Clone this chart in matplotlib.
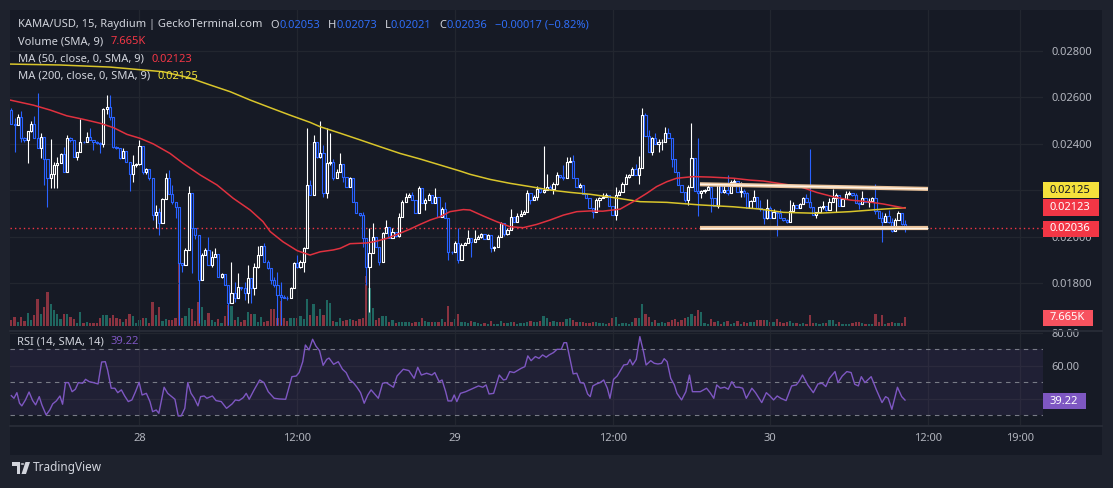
import numpy as np
import matplotlib
matplotlib.use("Agg")
import matplotlib.pyplot as plt
from matplotlib.patches import Rectangle, Circle, Polygon
from matplotlib.collections import PatchCollection
from matplotlib.lines import Line2D

plt.rcParams["font.family"] = ["Noto Sans", "DejaVu Sans"]

# ---------------- data (prices in 1e-5 units, volume in K) ----------------
first_open = 2546
closes = [
    2484, 2482, 2515, 2424, 2417, 2456, 2484, 2424, 2381, 2428, 2335, 2252, 2269, 2309, 2316, 2355,
    2280, 2424, 2417, 2345, 2367, 2410, 2407, 2431, 2417, 2410, 2403, 2400, 2550, 2561, 2515, 2388,
    2384, 2338, 2369, 2321, 2269, 2309, 2312, 2391, 2278, 2290, 2252, 2094, 2108, 2058,
    2161, 2252, 2183, 2148, 2127, 1885, 1878, 1943, 2187, 2036, 2007, 1813, 1921, 1943, 1878, 1914,
    1924, 1828, 1839, 1792, 1713, 1756, 1734, 1785, 1777, 1756, 1821, 1777, 1871, 1921, 1960, 1892,
    1864, 1813, 1792, 1749, 1742, 1738, 1734, 1777, 1885, 1871, 1892, 1950, 2223,
    2180, 2410, 2345, 2359, 2187, 2316, 2323, 2252, 2278, 2312, 2259, 2216, 2252, 2148, 2101, 2094,
    1993, 1871, 1928, 2000, 1957, 1892, 2014, 2043, 1996, 2022, 2003, 2086, 2151, 2173, 2180, 2158,
    2101, 2209, 2144, 2158, 2180, 2144, 2173, 2086, 2119, 2079, 1936, 1935, 1971,
    1900, 1964, 1971, 1993, 1978, 1990, 2000, 2010, 1990, 2007, 1950, 1957, 2000, 2057, 2010, 2029,
    2083, 2065, 2090, 2098, 2108, 2187, 2158, 2173, 2205, 2194, 2201, 2216, 2205, 2226, 2266, 2259,
    2255, 2321, 2326, 2255, 2216, 2223, 2183, 2165, 2122, 2108, 2158, 2165, 2173, 2180, 2134,
    2094, 2180, 2194, 2226, 2257, 2266, 2292, 2266, 2295, 2525, 2436, 2367, 2424, 2398, 2407, 2410,
    2446, 2427, 2335, 2278, 2223, 2194, 2158, 2216, 2338, 2197, 2187, 2197, 2201, 2216, 2165, 2134,
    2223, 2194, 2201, 2187, 2237, 2240, 2194, 2197, 2190, 2125, 2154, 2173, 2122,
    2118, 2082, 2122, 2079, 2108, 2101, 2082, 2072, 2065, 2111, 2137, 2125, 2140, 2168, 2148, 2130,
    2094, 2105, 2130, 2134, 2115, 2151, 2165, 2180, 2134, 2162, 2183, 2187, 2180, 2144, 2140, 2168,
    2151, 2154, 2168, 2111, 2082, 2065, 2090, 2065, 2025, 2072, 2101, 2053, 2036,
]
highs = [
    2555, 2510, 2528, 2542, 2431, 2456, 2499, 2520, 2618, 2449, 2428, 2335, 2421, 2320, 2345, 2360,
    2388, 2438, 2431, 2417, 2367, 2508, 2413, 2453, 2470, 2417, 2413, 2407, 2556, 2611, 2611, 2515,
    2392, 2384, 2381, 2369, 2321, 2352, 2316, 2417, 2391, 2295, 2290, 2252, 2137, 2125,
    2165, 2273, 2288, 2223, 2148, 2127, 1885, 1950, 2219, 2187, 2036, 2007, 1928, 1950, 2000, 1940,
    1950, 1924, 1845, 1839, 1792, 1892, 1806, 1842, 1785, 1806, 1878, 1821, 1885, 1960, 1960, 1971,
    1900, 1864, 1827, 1849, 1806, 1749, 1745, 1785, 1892, 1921, 1900, 1957, 2467,
    2244, 2438, 2410, 2499, 2395, 2467, 2446, 2335, 2290, 2359, 2312, 2259, 2259, 2252, 2148, 2101,
    2108, 1993, 2036, 2058, 2000, 1957, 2022, 2072, 2043, 2036, 2022, 2101, 2158, 2187, 2187, 2194,
    2158, 2220, 2209, 2165, 2187, 2180, 2209, 2173, 2130, 2148, 2079, 1940, 1981,
    2036, 1971, 1978, 2029, 1993, 2029, 2007, 2014, 2010, 2010, 2007, 1960, 2007, 2065, 2057, 2036,
    2120, 2083, 2104, 2115, 2115, 2201, 2187, 2180, 2220, 2205, 2391, 2269, 2223, 2234, 2277, 2266,
    2309, 2345, 2345, 2352, 2255, 2230, 2223, 2183, 2165, 2122, 2165, 2170, 2187, 2187, 2180,
    2134, 2216, 2201, 2234, 2269, 2270, 2302, 2312, 2348, 2553, 2532, 2460, 2431, 2446, 2421, 2421,
    2474, 2467, 2427, 2335, 2278, 2223, 2194, 2223, 2489, 2338, 2424, 2200, 2205, 2226, 2216, 2165,
    2230, 2223, 2223, 2266, 2245, 2248, 2240, 2237, 2205, 2194, 2160, 2201, 2173,
    2158, 2118, 2162, 2134, 2120, 2108, 2120, 2082, 2075, 2158, 2148, 2137, 2144, 2172, 2183, 2378,
    2130, 2108, 2134, 2154, 2134, 2168, 2205, 2187, 2180, 2165, 2197, 2197, 2190, 2187, 2148, 2197,
    2168, 2165, 2172, 2229, 2111, 2108, 2101, 2115, 2080, 2080, 2111, 2101, 2073,
]
lows = [
    2484, 2367, 2482, 2410, 2410, 2316, 2453, 2424, 2381, 2338, 2223, 2129, 2209, 2209, 2209, 2316,
    2280, 2280, 2410, 2345, 2331, 2367, 2405, 2407, 2417, 2374, 2400, 2359, 2388, 2528, 2503, 2384,
    2380, 2335, 2338, 2320, 2197, 2234, 2300, 2309, 2270, 2270, 2245, 2072, 2036, 2007,
    2058, 2161, 2183, 2140, 2079, 1619, 1849, 1878, 1943, 1842, 1990, 1627, 1813, 1921, 1878, 1870,
    1914, 1828, 1820, 1792, 1619, 1713, 1720, 1734, 1770, 1727, 1713, 1713, 1749, 1864, 1921, 1892,
    1860, 1796, 1785, 1619, 1619, 1734, 1727, 1734, 1777, 1864, 1864, 1849, 1950,
    2180, 2180, 2340, 2338, 2170, 2165, 2309, 2245, 2252, 2278, 2237, 2216, 2216, 2148, 2101, 2090,
    1957, 1792, 1677, 1928, 1957, 1878, 1892, 2014, 1996, 1996, 2000, 2000, 2086, 2151, 2170, 2158,
    2101, 2101, 2144, 2115, 2158, 2144, 2144, 2086, 2086, 2079, 1900, 1925, 1935,
    1885, 1900, 1964, 1971, 1914, 1978, 1990, 1995, 1990, 1990, 1936, 1940, 1957, 2000, 2003, 2007,
    2029, 2065, 2065, 2090, 2098, 2108, 2140, 2158, 2158, 2190, 2190, 2201, 2200, 2183, 2223, 2255,
    2245, 2255, 2320, 2255, 2216, 2210, 2183, 2165, 2122, 2082, 2108, 2130, 2165, 2173, 2134,
    2094, 2072, 2180, 2194, 2226, 2255, 2266, 2266, 2226, 2295, 2436, 2367, 2352, 2398, 2367, 2374,
    2410, 2427, 2302, 2278, 2223, 2194, 2150, 2137, 2216, 2197, 2091, 2165, 2187, 2200, 2105, 2134,
    2125, 2190, 2190, 2180, 2187, 2230, 2194, 2172, 2172, 2125, 2125, 2154, 2122,
    2110, 2053, 2075, 2079, 2079, 2004, 2082, 2068, 2060, 2065, 2111, 2125, 2125, 2140, 2148, 2125,
    2094, 2082, 2105, 2120, 2110, 2115, 2151, 2108, 2134, 2134, 2162, 2180, 2175, 2144, 2120, 2140,
    2151, 2130, 2151, 2097, 2082, 1976, 2065, 2060, 2022, 2025, 2072, 2050, 2021,
]
volumes = [
    4.9, 7.8, 2.9, 7.8, 4.1, 11.3, 4.9, 9.3, 23.2, 10.1, 16.5, 29.6, 18.8, 13.6, 10.1, 5.8,
    10.1, 10.1, 7.2, 5.8, 2.6, 11.6, 2.6, 3.5, 2.6, 2.6, 2.6, 7.0, 9.3, 9.3, 6.4, 9.3,
    7.0, 5.5, 3.5, 5.5, 10.1, 8.4, 2.6, 4.9, 7.0, 7.0, 2.6, 20.3, 9.3, 16.2,
    4.1, 5.5, 4.9, 4.9, 7.0, 68.0, 7.0, 8.4, 15.7, 14.5, 4.1, 20.9, 16.5, 4.9, 10.7, 4.9,
    3.5, 5.8, 2.6, 8.7, 18.0, 17.4, 4.9, 7.8, 2.9, 4.9, 11.6, 9.9, 9.9, 2.9, 7.2, 2.9,
    4.1, 14.5, 14.5, 6.4, 21.4, 6.4, 4.1, 6.4, 6.4, 6.4, 8.7, 5.8, 23.2,
    9.3, 18.8, 8.7, 14.5, 9.3, 22.3, 19.4, 4.1, 2.9, 6.4, 4.3, 4.9, 5.8, 4.9, 4.1, 5.8,
    7.0, 43.5, 33.0, 15.1, 4.9, 6.4, 8.7, 8.7, 2.9, 4.9, 2.0, 2.9, 2.9, 2.9, 2.9, 2.0,
    2.9, 3.5, 7.0, 4.1, 2.9, 2.9, 2.9, 2.9, 5.8, 2.9, 17.4, 2.9, 5.8,
    10.1, 2.9, 2.9, 2.3, 4.3, 2.9, 2.3, 1.7, 2.3, 1.7, 4.1, 1.7, 1.7, 4.1, 2.3, 2.3,
    3.5, 2.9, 1.7, 2.3, 2.3, 2.9, 4.1, 2.9, 2.9, 4.1, 8.4, 7.0, 2.9, 4.1, 2.9, 2.9,
    2.9, 5.5, 7.0, 4.9, 2.9, 2.9, 2.9, 2.3, 2.3, 2.9, 2.9, 2.3, 2.3, 1.7, 2.3,
    7.0, 7.8, 1.7, 2.3, 2.3, 1.2, 2.9, 6.4, 7.0, 18.8, 10.1, 7.8, 2.9, 4.9, 2.3, 2.9,
    2.3, 2.9, 4.9, 5.8, 2.9, 4.9, 7.0, 7.8, 10.1, 8.4, 13.6, 11.6, 2.3, 1.7, 5.8, 2.9,
    4.1, 1.7, 2.9, 4.1, 1.7, 2.3, 4.1, 1.7, 2.9, 2.3, 2.9, 3.5, 4.9,
    4.9, 4.9, 4.9, 2.9, 2.9, 5.8, 2.9, 2.0, 2.9, 4.1, 2.3, 2.3, 1.7, 2.3, 1.7, 9.3,
    2.3, 2.3, 1.7, 2.3, 2.3, 4.9, 4.9, 1.7, 2.9, 1.7, 1.7, 1.7, 2.3, 2.9, 2.9, 2.3,
    1.7, 1.7, 1.7, 10.1, 2.9, 9.3, 1.7, 2.3, 2.9, 2.3, 2.3, 2.3, 7.665,
]

# moving averages (x = candle number)
ma50_x = [-0.4, 6.7, 11.8, 16.9, 21.9, 27.0, 31.1, 35.2, 39.2, 43.2, 48.3, 52.3, 57.5, 62.6, 67.5,
          72.7, 76.6, 78.8, 82.7, 87.0, 90.9, 94.0, 98.0, 100.1, 103.1, 108.2, 111.2, 114.3, 118.3,
          121.4, 124.4, 127.5, 130.5, 133.5, 137.6, 139.6, 143.7, 147.7, 151.8, 155.8, 159.9, 164.0,
          168.0, 172.1, 176.1, 180.0, 185.3, 189.3, 193.4, 196.4, 199.5, 202.5, 207.6, 212.7, 219.8,
          224.8, 228.9, 235.0, 240.0, 245.1, 250.2, 255.3, 260.4, 265.4, 272.0]
ma50_y = [2589, 2567, 2546, 2521, 2506, 2489, 2470, 2441, 2424, 2400, 2359, 2316, 2266, 2223, 2166,
          2115, 2065, 2022, 1978, 1940, 1921, 1935, 1943, 1950, 1970, 1973, 1981, 1993, 2015,
          2033, 2053, 2072, 2086, 2108, 2117, 2115, 2089, 2065, 2043, 2039, 2053, 2072,
          2093, 2108, 2111, 2110, 2119, 2151, 2187, 2216, 2237, 2252, 2259, 2257, 2252,
          2244, 2240, 2227, 2216, 2191, 2172, 2158, 2151, 2141, 2123]
ma200_x = [-0.4, 14.9, 30.1, 46.2, 54.4, 60.5, 66.6, 72.7, 78.8, 84.8, 90.9, 94.0, 100.1, 106.2,
           112.2, 118.3, 124.4, 130.5, 136.6, 139.6, 145.7, 151.8, 157.9, 164.0, 170.1, 176.1,
           182.2, 191.4, 199.5, 209.6, 219.7, 227.9, 235.0, 245.1, 255.3, 265.4, 272.0]
ma200_y = [2744, 2740, 2731, 2711, 2684, 2654, 2625, 2589, 2556, 2524, 2493, 2474, 2446, 2417,
           2388, 2359, 2335, 2309, 2283, 2269, 2247, 2230, 2216, 2201, 2191, 2183,
           2171, 2151, 2148, 2137, 2129, 2119, 2105, 2101, 2108, 2119, 2125]

rsi_x = [0, 0.8, 1.7, 2.5, 3.2, 4.3, 5.4, 6.5, 7.4, 8.5, 9.3, 10.6, 11.7, 12.6, 13.7, 14.8, 15.6,
         16.5, 17.4, 18.5, 19.5, 20.4, 21.7, 22.6, 23.7, 25.0, 26.4, 27.5, 28.6, 29.3, 30.4, 31.5,
         32.4, 33.5, 34.5, 35.6, 36.7, 37.8, 38.9, 39.8, 41.1, 42.2, 43.0, 44.1, 44.9, 46.5, 47.6,
         49.8, 50.8, 51.7, 52.8, 53.7, 54.7, 55.7, 56.8, 57.6, 58.7, 59.5, 61.2, 62.3, 63.9, 65.5,
         67.2, 68.2, 69.3, 70.6, 71.5, 72.4, 73.9, 75.6, 76.9, 78.2, 80.0, 81.5, 83.5, 84.3, 85.4,
         86.7, 87.6, 88.7, 89.5, 90.6, 91.7, 92.7, 93.8, 94.9, 96.0, 96.7, 98.1, 99.5, 100.8, 101.9,
         103.0, 104.1, 105.2, 106.3, 107.4, 108.5, 109.5, 110.4, 111.7, 113.0, 114.1, 115.2, 116.3,
         117.4, 119.3, 121.0, 122.6, 123.7, 124.8, 126.4, 128.0, 128.9, 130.2, 131.1, 132.2, 132.9,
         134.0, 134.8, 135.6, 136.7, 138.3, 140.0, 142.2, 143.5, 144.5, 145.4, 146.8, 148.5, 149.8,
         150.6, 151.7, 153.0, 155.2, 156.3, 157.2, 158.2, 159.5, 160.6, 161.7, 162.8, 163.7, 165.0,
         166.1, 167.4, 168.2, 169.0, 169.9, 171.0, 172.1, 173.2, 174.3, 175.4, 176.2, 177.0, 178.1,
         179.2, 180.3, 181.4, 182.2, 183.3, 184.4, 185.5, 186.4, 187.5, 188.3, 189.1, 190.2, 191.3,
         192.4, 193.2, 194.6, 195.7, 196.8, 197.9, 198.7, 199.6, 200.7, 201.8, 202.6, 204.0, 205.3,
         206.4, 207.3, 208.4, 209.7, 211.6, 212.7, 213.8, 214.7, 215.8, 217.1, 218.2, 219.3, 220.4,
         221.5, 222.6, 223.7, 225.4, 226.5, 228.4, 229.8, 230.9, 232.0, 233.1, 234.2, 235.8, 237.5,
         238.9, 239.7, 240.8, 242.4, 244.1, 245.5, 246.8, 247.9, 249.0, 250.7, 251.6, 252.9, 254.3,
         255.6, 256.7, 257.8, 258.7, 259.8, 261.7, 263.3, 265.0, 266.1, 266.9, 268.0, 269.7, 271.0,
         272.0]
rsi_v = [41.9, 40.3, 43.7, 37.3, 35.7, 39.3, 44.1, 38.9, 36.3, 41.3, 36.3, 30.2, 33.2, 36.9, 38.7,
         41.7, 36.7, 49.8, 49.8, 44.3, 45.8, 49.8, 49.4, 51.8, 50.4, 49.8, 49.0, 62.3, 62.5, 57.5,
         46.4, 46.4, 43.7, 45.4, 41.7, 38.3, 39.3, 44.3, 50.0, 42.3, 43.3, 38.3, 32.2, 33.2, 31.2,
         47.0, 43.3, 39.7, 29.6, 29.6, 34.2, 49.8, 43.3, 40.3, 35.7, 41.3, 41.7, 40.3, 41.7, 38.9,
         38.3, 34.2, 36.9, 39.3, 38.9, 40.7, 43.3, 39.7, 45.4, 51.4, 49.8, 44.3, 40.3, 39.9, 39.7,
         45.4, 53.4, 53.8, 55.9, 62.5, 72.6, 69.6, 76.1, 72.0, 69.2, 60.3, 63.9, 64.7, 60.9, 62.5,
         57.9, 55.9, 51.4, 49.8, 47.0, 43.7, 37.3, 42.3, 45.4, 43.3, 40.3, 49.4, 49.8, 48.4, 47.0,
         53.8, 57.9, 57.1, 52.4, 59.1, 54.4, 55.5, 54.4, 55.9, 50.4, 51.4, 44.3, 38.7, 38.7, 42.3,
         38.3, 43.3, 44.3, 45.8, 47.8, 47.0, 48.4, 42.9, 43.3, 54.4, 51.4, 51.8, 56.5, 55.9, 58.5,
         59.5, 66.0, 63.1, 65.6, 64.5, 66.6, 65.2, 66.6, 68.0, 70.0, 70.0, 74.0, 74.0, 65.6, 55.1,
         55.5, 49.8, 49.4, 42.9, 41.3, 47.8, 49.0, 49.8, 51.4, 46.4, 40.3, 51.8, 53.8, 57.5, 60.5,
         60.9, 63.9, 60.5, 63.9, 77.7, 68.6, 60.5, 63.1, 61.5, 61.1, 61.5, 64.3, 62.5, 52.4, 48.4,
         43.3, 39.3, 44.3, 54.4, 44.3, 44.3, 44.3, 46.4, 43.7, 40.3, 48.4, 46.4, 47.0, 45.8, 50.4,
         47.0, 47.0, 46.4, 40.3, 46.4, 43.7, 37.7, 43.7, 41.7, 39.3, 41.7, 40.3, 38.9, 47.8, 48.4,
         50.4, 54.4, 48.4, 43.7, 49.0, 49.4, 47.4, 52.4, 56.5, 49.8, 53.8, 56.5, 55.9, 48.8, 47.8,
         53.4, 49.8, 53.4, 45.4, 37.7, 41.3, 40.3, 33.6, 47.0, 41.3, 39.22]

# drawn horizontal levels
level_x = [209.6, 279.0]
level_hi = [2226, 2206]
level_lo = [2037, 2037]

tick_pos = [39, 87, 135, 183, 231, 279, 307]
tick_labels = ["28", "12:00", "29", "12:00", "30", "12:00", "19:00"]
price_ticks = [0.018, 0.020, 0.022, 0.024, 0.026, 0.028]
rsi_ticks = [40, 60, 80]

# ---------------- prep ----------------
closes = np.array(closes) / 1e5
highs = np.array(highs) / 1e5
lows = np.array(lows) / 1e5
opens = np.r_[first_open / 1e5, closes[:-1]]
highs = np.maximum(highs, np.maximum(opens, closes))
lows = np.minimum(lows, np.minimum(opens, closes))
x = np.arange(len(closes))
up = closes >= opens

BG = "#161a25"
FRAME = "#1e222d"
GRID = "#22262f"
TXT = "#b2b5be"
LEG = "#d1d4dc"
UPC = "#ffffff"
DNC = "#2962ff"
RED = "#f23645"
YEL = "#d9c52b"
PURP = "#7e57c2"

W, H = 1113, 488
fig = plt.figure(figsize=(W / 100, H / 100), dpi=100, facecolor=FRAME)


def rect_px(x0, y0, x1, y1):
    return [x0 / W, 1 - y1 / H, (x1 - x0) / W, (y1 - y0) / H]


fig.add_artist(Rectangle((10 / W, 1 - 455 / H), 1092 / W, 445 / H, transform=fig.transFigure,
                         fc=BG, ec="none", zorder=-1))

ax_v = fig.add_axes(rect_px(10, 10, 1043, 330), label="vol")
ax = fig.add_axes(rect_px(10, 10, 1043, 330), sharex=ax_v, label="price")
ax_r = fig.add_axes(rect_px(10, 332, 1043, 425), sharex=ax_v, label="rsi")
ax_v.set_zorder(0)
ax.set_zorder(1)
ax_r.set_zorder(1)
for a in (ax, ax_r):
    a.set_facecolor("none")
    for s in a.spines.values():
        s.set_visible(False)

ax_v.set_xlim(-0.4, 314.0)

# volume
vcol = np.where(up, "#1f6660", "#8a3340")
ax_v.bar(x, volumes, width=0.72, color=vcol, linewidth=0)
ax_v.set_ylim(-3.7, 274.6)
ax_v.axis("off")

# grid
for p in price_ticks:
    ax.axhline(p, color=GRID, lw=0.9, zorder=0)
for t in tick_pos:
    ax.axvline(t, color=GRID, lw=0.9, zorder=0)
    ax_r.axvline(t, color=GRID, lw=0.9, zorder=0)
for r in rsi_ticks:
    ax_r.axhline(r, color=GRID, lw=0.9, zorder=0)

# candles
ccol = np.where(up, UPC, DNC)
ax.vlines(x, lows, highs, colors=ccol, lw=0.8, zorder=3)
bw = 0.66
body_lo = np.minimum(opens, closes)
body_hi = np.maximum(opens, closes)
rects = [Rectangle((i - bw / 2, lo), bw, hi - lo) for i, lo, hi in zip(x, body_lo, body_hi)]
ax.add_collection(PatchCollection(rects, facecolor=BG, edgecolor=ccol, linewidth=0.8, zorder=4))

# moving averages
ax.plot(ma200_x, np.array(ma200_y) / 1e5, color=YEL, lw=1.1, zorder=5)
ax.plot(ma50_x, np.array(ma50_y) / 1e5, color="#e0313f", lw=1.1, zorder=5)

# drawn levels
for lv in (level_hi, level_lo):
    ax.plot(level_x, np.array(lv) / 1e5, color="#e9c29a", lw=3.0, zorder=6, solid_capstyle="butt")
    ax.plot(level_x, np.array(lv) / 1e5, color="#fff3e6", lw=1.0, zorder=7, solid_capstyle="butt")

# last price line
ax.axhline(closes[-1], color=RED, lw=1.0, ls=(0, (1, 2.2)), zorder=2)

ax.set_ylim(0.01598, 0.02977)
ax.set_yticks(price_ticks)
ax.set_yticklabels([f"{p:.5f}" for p in price_ticks])
ax.yaxis.tick_right()
ax.tick_params(axis="y", length=0, pad=6, labelsize=8, labelcolor=TXT)
ax.tick_params(axis="x", length=0, labelbottom=False)

# RSI pane
ax_r.axhspan(30, 70, color=PURP, alpha=0.1, lw=0, zorder=0)
for r in (70, 50, 30):
    ax_r.axhline(r, color="#787b86", lw=0.8, ls=(0, (4, 4)), zorder=1)
ax_r.plot(rsi_x, rsi_v, color=PURP, lw=1.0, zorder=3)
ax_r.set_ylim(24.1, 80.5)
ax_r.set_yticks(rsi_ticks)
ax_r.set_yticklabels([f"{r:.2f}" for r in rsi_ticks])
ax_r.yaxis.tick_right()
ax_r.tick_params(axis="y", length=0, pad=6, labelsize=8, labelcolor=TXT)
ax_r.set_xticks(tick_pos)
ax_r.set_xticklabels(tick_labels)
ax_r.tick_params(axis="x", length=0, pad=6, labelsize=8, labelcolor=TXT)

# pane separators
for yy in (331, 425.5):
    fig.add_artist(Line2D([10 / W, 1102 / W], [1 - yy / H, 1 - yy / H], color="#2a2e39", lw=1.2,
                          transform=fig.transFigure, zorder=4))

# ---------------- text ----------------
renderer = fig.canvas.get_renderer()


def seg_text(x0, y0, parts, size=8):
    xx = x0
    for s, c, gap in parts:
        t = fig.text(xx / W, 1 - y0 / H, s, color=c, fontsize=size, ha="left", va="center", zorder=8)
        xx += t.get_window_extent(renderer=renderer).width + gap


BLU = "#2f6df6"
seg_text(18, 25, [("KAMA/USD, 15, Raydium | GeckoTerminal.com", LEG, 8),
                  ("O", LEG, 0), (f"{opens[-1]:.5f}", BLU, 8),
                  ("H", LEG, 0), (f"{highs[-1]:.5f}", BLU, 8),
                  ("L", LEG, 0), (f"{lows[-1]:.5f}", BLU, 8),
                  ("C", LEG, 0), (f"{closes[-1]:.5f}", BLU, 8),
                  ("\u22120.00017 (\u22120.82%)", BLU, 0)])
seg_text(18, 42, [("Volume (SMA, 9)", LEG, 7), ("7.665K", RED, 0)])
seg_text(18, 59, [("MA (50, close, 0, SMA, 9)", LEG, 7), (f"{ma50_y[-1] / 1e5:.5f}", RED, 0)])
seg_text(18, 76, [("MA (200, close, 0, SMA, 9)", LEG, 7), (f"{ma200_y[-1] / 1e5:.5f}", "#f2e33a", 0)])
seg_text(17, 342, [("RSI (14, SMA, 14)", LEG, 7), (f"{rsi_v[-1]:.2f}", PURP, 0)])


def badge(x0, y0, x1, y1, s, fc, tc):
    fig.add_artist(Rectangle((x0 / W, 1 - y1 / H), (x1 - x0) / W, (y1 - y0) / H,
                             transform=fig.transFigure, fc=fc, ec="none", zorder=9))
    fig.text((x0 + 7) / W, 1 - (y0 + y1) / 2 / H, s, color=tc, fontsize=8, ha="left",
             va="center", zorder=10)


badge(1043, 182, 1099, 198.5, f"{ma200_y[-1] / 1e5:.5f}", "#f5e13c", "#131722")
badge(1043, 199.5, 1099, 215.5, f"{ma50_y[-1] / 1e5:.5f}", RED, "white")
badge(1043, 220.5, 1099, 236.5, f"{closes[-1]:.5f}", RED, "white")
badge(1043, 310, 1093, 325.5, f"{volumes[-1]:.3f}K", "#f7525f", "white")
badge(1043, 393, 1086, 409, f"{rsi_v[-1]:.2f}", PURP, "white")

# TradingView logo
logo_c = "#d1d4dc"
fig.add_artist(Polygon([(12 / W, 1 - 462 / H), (20 / W, 1 - 462 / H), (20 / W, 1 - 474 / H),
                        (16.5 / W, 1 - 474 / H), (16.5 / W, 1 - 465.5 / H), (12 / W, 1 - 465.5 / H)],
                       closed=True, transform=fig.transFigure, fc=logo_c, ec="none"))
fig.add_artist(Circle((22.5 / W, 1 - 464 / H), 1.8 / W, transform=fig.transFigure, fc=logo_c, ec="none"))
fig.add_artist(Polygon([(25.5 / W, 1 - 462 / H), (30 / W, 1 - 462 / H), (26 / W, 1 - 474 / H),
                        (21.5 / W, 1 - 474 / H)],
                       closed=True, transform=fig.transFigure, fc=logo_c, ec="none"))
fig.text(33 / W, 1 - 468 / H, "TradingView", color=logo_c, fontsize=8.5, fontweight="semibold",
         ha="left", va="center")

fig.savefig("out.png", dpi=100, facecolor=FRAME)
